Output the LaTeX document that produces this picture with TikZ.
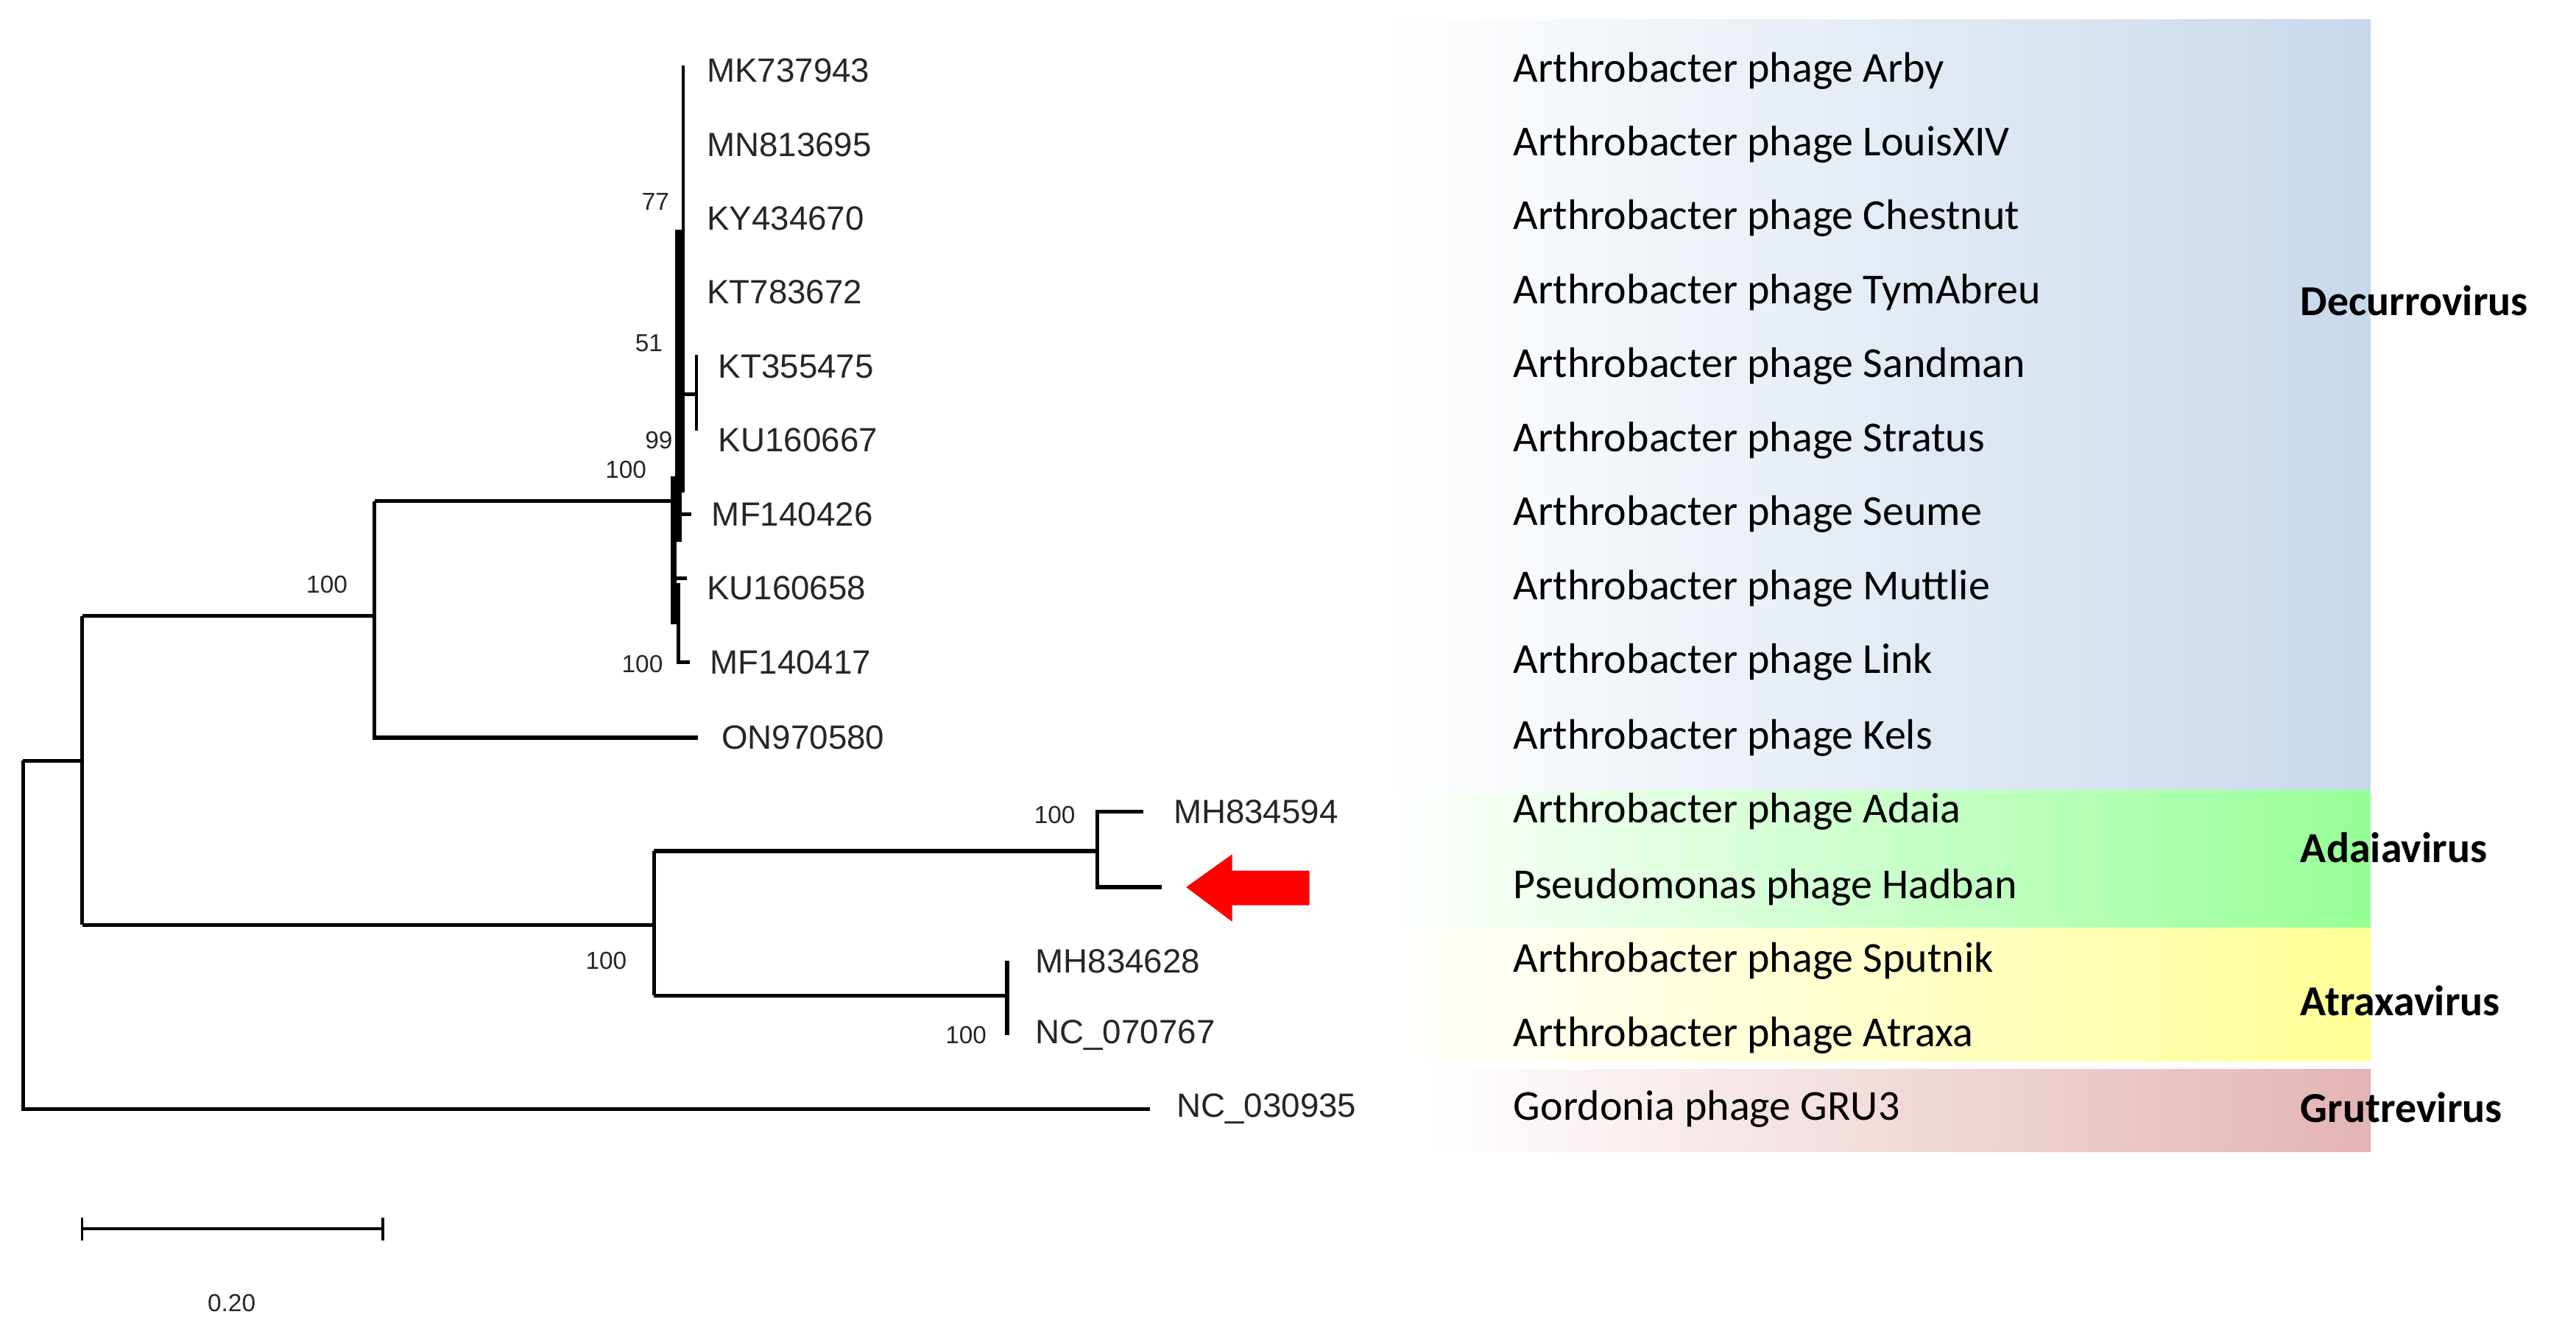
\documentclass[tikz,border=0pt]{standalone}
\usepackage{fontspec}
\setmainfont{Carlito}
\newfontfamily\acc{Liberation Sans}
\begin{document}
\begin{tikzpicture}[x=0.022315cm,y=-0.022315cm,
  br/.style={line width=1.5pt},
  acn/.style={anchor=west,font=\acc\fontsize{13}{13}\selectfont,inner sep=0pt,text=black!85},
  bs/.style={font=\acc\fontsize{9.5}{10}\selectfont,inner sep=0pt,text=black!85},
  ph/.style={anchor=west,font=\fontsize{16.5}{17}\selectfont,inner sep=0pt},
  gen/.style={anchor=west,font=\bfseries\fontsize{16.5}{17}\selectfont,inner sep=0pt}]
\useasboundingbox (0,0) rectangle (1568,812);
% backgrounds
\shade[left color=white,right color={rgb,255:red,200;green,216;blue,234}] (843,12) rectangle (1443,646);
\shade[left color=white,right color={rgb,255:red,150;green,255;blue,150}] (843,481) rectangle (1443,565);
\shade[left color=white,right color={rgb,255:red,255;green,255;blue,150}] (843,565) rectangle (1443,646);
\shade[left color=white,right color={rgb,255:red,228;green,180;blue,180}] (870,651) rectangle (1443,701);
% phage names
\foreach \n/\y/\t in {p1/43/Arthrobacter phage Arby,p2/88/Arthrobacter phage LouisXIV,p3/133/Arthrobacter phage Chestnut,p4/178/Arthrobacter phage TymAbreu,p5/223/Arthrobacter phage Sandman,p6/268/Arthrobacter phage Stratus,p7/313/Arthrobacter phage Seume,p8/358/Arthrobacter phage Muttlie,p9/403/Arthrobacter phage Link,p10/449/Arthrobacter phage Kels,p11/494/Arthrobacter phage Adaia,p12/540/Pseudomonas phage Hadban,p13/585/Arthrobacter phage Sputnik,p14/630/Arthrobacter phage Atraxa,p15/675/Gordonia phage GRU3}
  \node[ph] (\n) at (921,\y) {\t};
\node[gen] (g1) at (1400,183) {Decurrovirus};
\node[gen] (g2) at (1400,516) {Adaiavirus};
\node[gen] (g3) at (1400,609) {Atraxavirus};
\node[gen] (g4) at (1400,674) {Grutrevirus};
% accessions
\foreach \n/\x/\y/\t in {a1/430/43/MK737943,a2/430/88/MN813695,a3/430/133/KY434670,a4/430/178/KT783672,a5/437/223/KT355475,a6/437/268/KU160667,a7/433/313/MF140426,a8/430/358/KU160658,a9/432/403/MF140417,a10/439/449/ON970580,a11/714/494/MH834594,a13/630/585/MH834628,a14/630/630/NC\_070767,a15/716/675/NC\_030935}
  \node[acn] (\n) at (\x,\y) {\t};
% bootstrap
\foreach \n/\x/\y/\t in {b1/399/123/77,b2/395/209/51,b3/401/268/99,b4/381/286/100,b5/199/356/100,b6/391/404/100,b7/642/496/100,b8/369/585/100,b9/588/630/100}
  \node[bs] (\n) at (\x,\y) {\t};
% tree
\draw[br] (14,463) -- (14,675) -- (700,675);
\draw[br] (14,463) -- (50,463);
\draw[br] (50,375) -- (50,563);
\draw[br] (50,375) -- (228,375);
\draw[br] (228,305) -- (228,449) -- (425,449);
\draw[br] (228,305) -- (410,305);
\draw[br] (50,563) -- (398,563);
\draw[br] (398,518) -- (398,606);
\draw[br] (398,518) -- (668,518);
\draw[br] (696,494) -- (668,494) -- (668,540) -- (707,540);
\draw[br] (398,606) -- (613,606);
\draw[br] (613,585) -- (613,630);
% decurrovirus clade
\draw[line width=1.2pt] (416,40) -- (416,300);
\draw[line width=2.5pt] (413,140) -- (413,330);
\draw[line width=2.5pt] (410,290) -- (410,380);
\draw[line width=1.2pt] (416,240) -- (424,240);
\draw[line width=1.2pt] (424,216) -- (424,262);
\draw[line width=1.2pt] (413,313) -- (421,313);
\draw[line width=1.2pt] (410,352) -- (418,352);
\draw[line width=1.5pt] (413,355) -- (413,403) -- (420,403);
% arrow
\fill[red] (722,540) -- (750,520) -- (750,530) -- (797,530) -- (797,551) -- (750,551) -- (750,561) -- cycle;
% scale bar
\draw[line width=1pt] (50,748) -- (233,748);
\draw[line width=1pt] (50,741) -- (50,755);
\draw[line width=1pt] (233,741) -- (233,755);
\node[bs] (sc) at (141,793) {0.20};
\end{tikzpicture}
\end{document}
